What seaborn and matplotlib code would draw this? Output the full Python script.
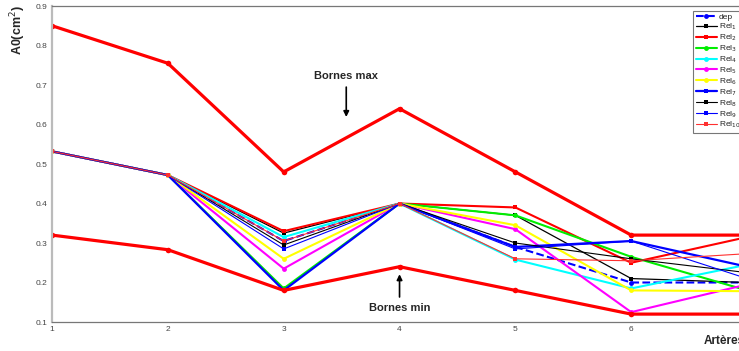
"""
Bornes min/max et courbes A0 par artère
"""

import matplotlib
matplotlib.use("Agg")
import matplotlib.pyplot as plt
import seaborn as sns
import numpy as np

# data
arteres = [1, 2, 3, 4, 5, 6, 7]
borne_max = [0.85, 0.755, 0.48, 0.64, 0.48, 0.32, 0.32]
borne_min = [0.32, 0.283, 0.18, 0.24, 0.18, 0.12, 0.12]
dep = [0.532, 0.472, 0.305, 0.40, 0.29, 0.20, 0.20]
rel_1 = [0.532, 0.472, 0.325, 0.40, 0.37, 0.21, 0.20]
rel_2 = [0.532, 0.472, 0.33, 0.40, 0.39, 0.25, 0.315]
rel_3 = [0.532, 0.472, 0.185, 0.40, 0.37, 0.265, 0.18]
rel_4 = [0.532, 0.472, 0.315, 0.40, 0.258, 0.185, 0.245]
rel_5 = [0.532, 0.472, 0.235, 0.40, 0.335, 0.125, 0.195]
rel_6 = [0.532, 0.472, 0.26, 0.40, 0.345, 0.18, 0.178]
rel_7 = [0.532, 0.472, 0.18, 0.40, 0.29, 0.305, 0.24]
rel_8 = [0.532, 0.472, 0.295, 0.40, 0.30, 0.26, 0.225]
rel_9 = [0.532, 0.472, 0.285, 0.40, 0.285, 0.305, 0.21]
rel_10 = [0.532, 0.472, 0.305, 0.40, 0.26, 0.255, 0.273]
x_labels = ['1', '2', '3', '4', '5', '6', '']
y_ticks = [0.1, 0.2, 0.3, 0.4, 0.5, 0.6, 0.7, 0.8, 0.9]

sns.set_style("white")
plt.rcParams['font.family'] = ['Liberation Sans', 'DejaVu Sans']

fig = plt.figure(figsize=(7.39, 3.51), dpi=100)
# axes run past the right edge, like the cropped original
ax = fig.add_axes([0.0704, 0.0826, 0.9405, 0.9003])

series = [
    ('dep', dep, 'blue', 1.5, 'o', '--'),
    ('Rel$_1$', rel_1, 'black', 0.9, 's', '-'),
    ('Rel$_2$', rel_2, 'red', 1.5, 's', '-'),
    ('Rel$_3$', rel_3, '#00ee00', 1.5, 'o', '-'),
    ('Rel$_4$', rel_4, 'cyan', 1.5, 'o', '-'),
    ('Rel$_5$', rel_5, 'magenta', 1.5, 'o', '-'),
    ('Rel$_6$', rel_6, 'yellow', 1.5, 'o', '-'),
    ('Rel$_7$', rel_7, 'blue', 1.6, 's', '-'),
    ('Rel$_8$', rel_8, 'black', 0.8, 's', '-'),
    ('Rel$_9$', rel_9, 'blue', 0.8, 's', '-'),
    ('Rel$_{10}$', rel_10, '#ff3030', 0.8, 's', '-'),
]

handles = []
for name, vals, col, lw, mk, ls in series:
    sns.lineplot(x=arteres, y=vals, ax=ax, color=col, lw=lw, marker=mk,
                 markersize=3.5, markeredgewidth=0, linestyle=ls, label=name)
    handles.append(ax.lines[-1])

# bornes
for vals in (borne_max, borne_min):
    sns.lineplot(x=arteres, y=vals, ax=ax, color='red', lw=2.3, marker='o',
                 markersize=4, markeredgewidth=0)

if ax.get_legend() is not None:
    ax.get_legend().remove()

ax.set_xlim(1, 7)
ax.set_ylim(0.1, 0.9)
ax.set_xticks(arteres)
ax.set_xticklabels(x_labels)
ax.set_yticks(y_ticks)
ax.set_yticklabels([f'{t:.1f}' for t in y_ticks])
ax.tick_params(direction='in', length=4, width=0.8, labelsize=6,
               colors='#555555', labelcolor='#444444', pad=3)
for s in ax.spines.values():
    s.set_color('#777777')
    s.set_linewidth(0.9)
ax.spines['left'].set_color('#bbbbbb')
ax.spines['left'].set_linewidth(1.6)
ax.set_xlabel('')
ax.set_ylabel('')

fig.text(18 / 739, 1 - 30 / 351, 'A0(cm$^2$)', rotation=90, ha='center',
         va='center', fontsize=9, fontweight='bold')
fig.text(704 / 739, 1 - 341 / 351, 'Artères', ha='left', va='center',
         fontsize=8.5, fontweight='bold')

ax.annotate('Bornes max', xy=(3.54, 0.612), xytext=(3.54, 0.71),
            ha='center', va='bottom', fontsize=8, fontweight='bold',
            arrowprops=dict(arrowstyle='-|>', color='black', lw=1.2,
                            mutation_scale=8))
ax.annotate('Bornes min', xy=(4.0, 0.228), xytext=(4.0, 0.148),
            ha='center', va='top', fontsize=8, fontweight='bold',
            arrowprops=dict(arrowstyle='-|>', color='black', lw=1.2,
                            mutation_scale=8))

leg = fig.legend(handles=handles, loc='upper left',
                 bbox_to_anchor=(693 / 739, 1 - 11 / 351), fontsize=6,
                 frameon=True, fancybox=False, edgecolor='#777777',
                 framealpha=1, handlelength=2.6, handletextpad=0.2,
                 labelspacing=0.05, borderpad=0.3, borderaxespad=0)
leg.get_frame().set_linewidth(0.8)

fig.savefig('out.png', dpi=100)
plt.close(fig)
